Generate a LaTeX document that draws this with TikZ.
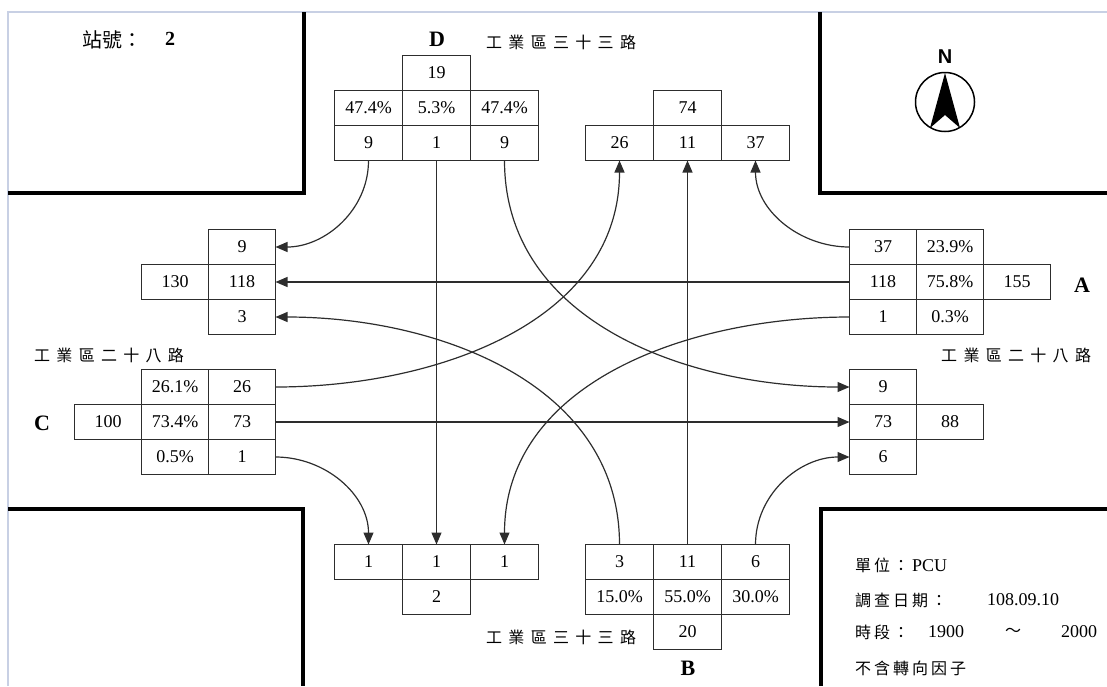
\documentclass[tikz,border=0pt]{standalone}
\usepackage{fontspec}
\setmainfont{Liberation Serif}
\newfontfamily\cjk{Noto Sans CJK TC}
\newfontfamily\compassfont{Liberation Sans}
\usetikzlibrary{matrix}
\usetikzlibrary{arrows.meta}
\definecolor{framegray}{RGB}{200,208,228}
\definecolor{linegray}{RGB}{45,45,45}

% spaced-out CJK text
\newcommand\spreadtext[2]{\def\spreadgap{#1}\spreadnext#2\relax}
\def\spreadnext#1{\ifx#1\relax\else#1\hspace{\spreadgap}\expandafter\spreadnext\fi}

\begin{document}
\begin{tikzpicture}[x=1pt, y=-1pt,
    countgrid/.style={matrix of nodes,
            ampersand replacement=\&,
            row sep=-1pt,
            column sep=-1pt,
            inner sep=0pt, outer sep=0pt, anchor=north west,
            nodes={draw=linegray, line width=1pt, minimum width=#1, minimum height=35pt,
                   inner sep=0pt, anchor=center, font=\fontsize{18}{18}\selectfont}},
    flow/.style={draw=linegray, line width=1.2pt, -{Triangle[length=12pt,width=10pt]}},
    road/.style={anchor=west, inner sep=0pt, font=\fontsize{16}{16}\selectfont\cjk},
    leg/.style={inner sep=0pt, font=\fontsize{22}{22}\selectfont\bfseries},
    note/.style={anchor=west, inner sep=0pt, font=\fontsize{18}{18}\selectfont},
    wall/.style={line width=4pt, black}]
    \useasboundingbox (0,0) rectangle (1107,686);
    % Frame and street corners
    \draw[framegray, line width=1.5pt] (8,686) -- (8,12) -- (1107,12);
    \draw[wall] (8,193) -- (304,193) -- (304,12);
    \draw[wall] (1107,193) -- (820,193) -- (820,12);
    \draw[wall] (8,509) -- (303,509) -- (303,686);
    \draw[wall] (1107,509) -- (821,509) -- (821,686);
    % North arrow
    \draw[line width=1.5pt] (945,102) circle[radius=29.5];
    \fill (945,73) -- (930,128) -- (945,115) -- (960,128) -- cycle;
    \node[inner sep=0pt, font=\compassfont\bfseries\fontsize{20}{20}\selectfont] (north) at (945,57) {N};
    % Station number
    \node[anchor=west, inner sep=0pt, font=\fontsize{20}{20}\selectfont\cjk] (stationlbl) at (82,40) {站號：};
    \node[inner sep=0pt, font=\fontsize{20}{20}\selectfont\bfseries] (stationno) at (170,39) {2};
    % Approach letters and road names
    \node[leg] (legD) at (437,39.5) {D};
    \node[leg] (legA) at (1082,285) {A};
    \node[leg] (legB) at (688,668) {B};
    \node[leg] (legC) at (42,423) {C};
    \node[road] (roadD) at (486,42) {\spreadtext{6.3pt}{工業區三十三路}};
    \node[road] (roadB) at (486,637) {\spreadtext{6.3pt}{工業區三十三路}};
    \node[road] (roadC) at (34,355) {\spreadtext{6.3pt}{工業區二十八路}};
    \node[road] (roadA) at (941,355) {\spreadtext{6.3pt}{工業區二十八路}};
    % Count tables
    \matrix[countgrid=68pt] (inD) at (334,55) {
        \& 19 \& \\
        47.4\% \& 5.3\% \& 47.4\% \\
        9 \& 1 \& 9 \\
    };
    \matrix[countgrid=68pt] (outD) at (585,90) {
        \& 74 \& \\
        26 \& 11 \& 37 \\
    };
    \matrix[countgrid=67pt] (inA) at (849,229) {
        37 \& 23.9\% \& \\
        118 \& 75.8\% \& 155 \\
        1 \& 0.3\% \& \\
    };
    \matrix[countgrid=67pt] (outA) at (849,369) {
        9 \& \\
        73 \& 88 \\
        6 \& \\
    };
    \matrix[countgrid=68pt] (inB) at (585,544) {
        3 \& 11 \& 6 \\
        15.0\% \& 55.0\% \& 30.0\% \\
        \& 20 \& \\
    };
    \matrix[countgrid=68pt] (outB) at (334,544) {
        1 \& 1 \& 1 \\
        \& 2 \& \\
    };
    \matrix[countgrid=67pt] (inC) at (74,369) {
        \& 26.1\% \& 26 \\
        100 \& 73.4\% \& 73 \\
        \& 0.5\% \& 1 \\
    };
    \matrix[countgrid=67pt] (outC) at (141,229) {
        \& 9 \\
        130 \& 118 \\
        \& 3 \\
    };
    % Through movements
    \draw[flow] (inD-3-2.south) -- (outB-1-2.north);
    \draw[flow] (inA-2-1.west) -- (outC-2-2.east);
    \draw[flow] (inB-1-2.north) -- (outD-2-2.south);
    \draw[flow] (inC-2-3.east) -- (outA-2-1.west);
    % Turning movements
    \draw[flow] (inD-3-1.south) to[out=-90,in=0] (outC-1-2.east);
    \draw[flow] (inD-3-3.south) to[out=-90,in=180] (outA-1-1.west);
    \draw[flow] (inA-1-1.west) to[out=180,in=-90] (outD-2-3.south);
    \draw[flow] (inA-3-1.west) to[out=180,in=90] (outB-1-3.north);
    \draw[flow] (inB-1-1.north) to[out=90,in=0] (outC-3-2.east);
    \draw[flow] (inB-1-3.north) to[out=90,in=180] (outA-3-1.west);
    \draw[flow] (inC-1-3.east) to[out=0,in=-90] (outD-2-1.south);
    \draw[flow] (inC-3-3.east) to[out=0,in=90] (outB-1-1.north);
    % Legend
    \node[note] (unit) at (855,565) {{\fontsize{16}{16}\selectfont\cjk\spreadtext{3pt}{單位：}}PCU};
    \node[note, font=\fontsize{16}{16}\selectfont\cjk] (datelbl) at (855,600) {\spreadtext{3pt}{調查日期：}};
    \node[note] (date) at (987,600) {108.09.10};
    \node[note, font=\fontsize{16}{16}\selectfont\cjk] (timelbl) at (855,632) {\spreadtext{3pt}{時段：}};
    \node[note] (timefrom) at (928,632) {1900};
    \node[inner sep=0pt, font=\fontsize{16}{16}\selectfont\cjk] (timedash) at (1013,632) {～};
    \node[note] (timeto) at (1061,632) {2000};
    \node[note, font=\fontsize{16}{16}\selectfont\cjk] (factor) at (855,668) {\spreadtext{3pt}{不含轉向因子}};
\end{tikzpicture}
\end{document}
